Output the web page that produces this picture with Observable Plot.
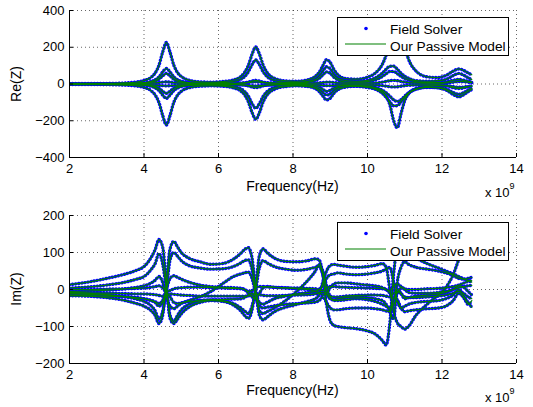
<!DOCTYPE html>
<html><head><meta charset="utf-8">
<script src="https://cdn.jsdelivr.net/npm/d3@7"></script>
<script src="https://cdn.jsdelivr.net/npm/@observablehq/plot@0.6"></script>
<style>
body{margin:0;background:#fff;}
#chart{width:533px;height:407px;}
#chart svg{display:block;}
</style></head><body><div id="chart"></div>
<script>
// Frequency samples (GHz, axis shows "x 10^9")
const freqGHz = [2.0,2.5,3.0,3.5,3.8,4.0,4.2,4.3,4.4,4.5,4.6,4.7,4.8,4.9,5.0,5.2,5.5,5.8,6.1,6.4,6.6,6.7,6.8,6.9,7.0,7.1,7.2,7.3,7.5,7.8,8.1,8.4,8.6,8.7,8.8,8.9,9.0,9.1,9.2,9.4,9.7,10.0,10.2,10.4,10.5,10.6,10.7,10.8,10.9,11.0,11.1,11.3,11.6,11.9,12.1,12.3,12.45,12.6,12.7,12.8];
const xTicks = [2,4,6,8,10,12,14];
const reTicks = [-400,-200,0,200,400];
const imTicks = [-200,-100,0,100,200];
const legendLabels = ["Field Solver","Our Passive Model"];

// Re(Z) series
const re1 = [1,1,2,6,11,19,38,60,101,172,226,172,103,62,41,21,12,10,13,22,41,63,101,161,201,162,102,64,31,17,15,23,42,63,99,132,117,78,51,30,26,37,58,108,157,232,318,350,287,200,136,71,39,35,46,70,82,72,60,50];
const re2 = [-1,-1,-3,-6,-11,-19,-38,-60,-100,-170,-223,-170,-100,-61,-40,-21,-12,-10,-12,-21,-38,-59,-96,-154,-192,-155,-97,-61,-29,-14,-10,-14,-25,-40,-65,-87,-77,-50,-32,-17,-11,-15,-23,-41,-66,-113,-198,-238,-161,-90,-54,-27,-17,-21,-32,-57,-70,-56,-42,-30];
const re3 = [1,1,1,2,4,7,14,23,38,65,85,65,39,23,15,8,5,5,7,13,26,40,66,105,131,105,66,41,19,9,9,14,27,43,70,94,82,53,33,19,15,20,32,60,80,97,97,80,59,42,31,18,15,18,24,46,58,46,34,24];
const re4 = [-1,-1,-1,-2,-4,-7,-13,-21,-35,-60,-78,-60,-36,-22,-14,-8,-5,-5,-7,-13,-26,-41,-66,-106,-132,-106,-67,-42,-19,-10,-7,-10,-19,-28,-45,-60,-53,-34,-21,-15,-13,-19,-28,-51,-72,-97,-118,-118,-97,-72,-51,-29,-19,-20,-26,-46,-56,-45,-33,-24];
const re5 = [0,0,1,1,3,5,10,15,26,44,58,44,26,15,10,5,3,2,2,2,4,6,10,16,20,16,10,7,4,3,4,9,19,30,49,66,58,37,23,11,10,13,22,41,56,68,68,56,41,29,22,12,7,7,10,20,25,20,15,10];
const re6 = [0,0,-1,-1,-3,-4,-9,-14,-23,-39,-51,-39,-23,-14,-9,-5,-3,-2,-2,-2,-4,-6,-10,-16,-20,-16,-10,-7,-4,-2,-2,-5,-11,-18,-29,-40,-34,-22,-15,-8,-9,-12,-19,-34,-48,-66,-86,-95,-86,-66,-48,-25,-13,-9,-10,-20,-25,-20,-15,-10];
const re7 = [3,3,3,3,4,4,5,6,8,10,12,10,8,6,5,4,3,3,3,4,5,6,8,10,12,10,8,6,5,4,3,4,5,6,8,10,10,8,6,5,4,5,6,10,14,18,20,18,14,10,8,6,5,5,6,10,14,12,10,8];
const re8 = [-3,-3,-3,-3,-4,-4,-5,-6,-8,-9,-10,-9,-8,-6,-5,-4,-3,-3,-3,-4,-5,-6,-8,-9,-10,-9,-8,-6,-5,-4,-3,-4,-5,-6,-8,-9,-9,-8,-6,-5,-4,-5,-6,-9,-12,-15,-16,-15,-12,-9,-7,-6,-5,-5,-8,-14,-18,-16,-14,-12];

// Im(Z) series
const im1 = [13,20,30,42,52,62,88,108,135,115,20,-78,-92,-80,-66,-48,-35,-30,-32,-42,-58,-70,-78,-55,10,92,110,100,85,76,75,78,83,80,40,-40,-85,-97,-100,-103,-106,-112,-120,-138,-150,-90,40,110,115,105,95,85,70,58,50,42,35,28,24,20];
const im2 = [-15,-18,-22,-30,-38,-45,-58,-70,-92,-70,20,110,130,115,100,85,75,68,70,82,98,108,113,85,0,-70,-82,-75,-60,-48,-40,-32,-25,-15,20,50,65,68,66,63,60,62,65,70,60,0,-60,-90,-100,-107,-100,-70,-40,-15,5,40,80,110,100,90];
const im3 = [4,7,12,20,28,35,55,70,97,70,0,-70,-86,-70,-55,-40,-30,-28,-30,-38,-50,-58,-65,-45,0,60,78,72,62,55,52,55,60,62,40,-10,-25,-28,-25,-22,-20,-22,-25,-30,-40,-60,-80,20,60,75,68,60,55,50,45,38,30,28,30,33];
const im4 = [-8,-10,-14,-20,-26,-32,-45,-58,-80,-60,0,80,100,90,78,65,58,55,56,62,72,78,80,55,-10,-58,-65,-60,-50,-30,-5,25,50,68,50,10,-20,-30,-30,-28,-25,-28,-32,-40,-45,-50,-30,0,-10,-25,-22,-18,-15,-12,-8,0,10,5,-5,-15];
const im5 = [-5,-4,-2,2,6,10,18,25,35,20,-20,-45,-52,-45,-38,-30,-20,-5,15,35,42,45,47,30,-10,-35,-40,-35,-25,-18,-12,-8,-5,0,10,30,40,42,45,42,40,42,45,50,55,60,20,-30,-50,-45,-40,-35,-32,-30,-25,-15,0,-20,-35,-48];
const im6 = [-12,-13,-15,-19,-22,-25,-30,-35,-45,-35,0,30,37,33,28,20,12,8,6,5,3,0,-10,-20,-25,-10,5,8,6,4,2,0,-5,-8,-15,-10,5,15,18,18,15,12,10,5,0,-10,-25,-10,5,0,-8,-10,-10,-8,-5,0,5,8,10,11];
const im7 = [-10,-10,-10,-11,-12,-12,-13,-14,-16,-18,-15,-12,-13,-14,-15,-16,-18,-18,-18,-18,-18,-18,-17,-15,-12,-14,-16,-17,-17,-16,-15,-14,-12,-10,-8,-12,-18,-20,-20,-18,-16,-15,-15,-16,-18,-20,-10,-5,-12,-20,-22,-22,-20,-18,-15,-10,-5,-12,-20,-25];
const im8 = [-17,-17,-18,-20,-22,-25,-30,-33,-38,-30,-10,-20,-35,-38,-36,-33,-30,-28,-27,-26,-25,-22,-15,-10,-25,-45,-50,-48,-44,-40,-38,-36,-34,-30,-20,-35,-50,-55,-55,-52,-50,-50,-52,-55,-58,-60,-40,-30,-50,-60,-58,-55,-52,-50,-45,-30,-10,-25,-40,-30];
const im9 = [0,0,1,2,3,4,6,8,10,5,-5,-3,2,4,5,6,6,5,4,3,2,0,-5,-3,5,8,8,7,6,5,4,3,2,0,-3,5,8,8,7,6,5,4,3,2,0,-3,10,15,8,2,0,0,2,3,5,8,12,18,22,25];

const FONT = "'Liberation Sans', Arial, Helvetica, sans-serif";
const BLUE = "#0000ff", GREEN = "#008000";

function toRows(series) {
  const rows = [];
  series.forEach((vals, s) => {
    const n = Math.min(vals.length, freqGHz.length);
    for (let i = 0; i < n; i++) rows.push({s, f: freqGHz[i], v: vals[i]});
  });
  return rows;
}

function panel(o) {
  const rows = toRows(o.series);
  const W = 533, mL = 69, mR = 17;
  const plotH = o.height - o.marginTop - o.marginBottom;
  const plotW = W - mL - mR;
  const grid = {stroke: "#000", strokeOpacity: 0.6, strokeDasharray: "1,3", strokeWidth: 1};
  const svg = Plot.plot({
    width: W, height: o.height,
    marginLeft: mL, marginRight: mR, marginTop: o.marginTop, marginBottom: o.marginBottom,
    style: {fontFamily: FONT, fontSize: "13px", background: "#fff", color: "#000", overflow: "visible"},
    x: {domain: [2, 14], ticks: xTicks, tickSize: 0, tickPadding: 6, label: null, tickFormat: d => String(d)},
    y: {domain: o.yDomain, ticks: o.yTicks, tickSize: 0, tickPadding: 5, label: null},
    marks: [
      Plot.ruleX(xTicks, {x: d => d, ...grid}),
      Plot.ruleY(o.yTicks, {y: d => d, ...grid}),
      Plot.line(rows, {x: "f", y: "v", z: "s", stroke: BLUE, strokeWidth: 3.4, strokeDasharray: "0.1,3", strokeLinecap: "round", curve: "monotone-x", clip: true}),
      Plot.line(rows, {x: "f", y: "v", z: "s", stroke: GREEN, strokeWidth: 1.2, curve: "monotone-x", clip: true}),
      Plot.tickX(xTicks, {x: d => d, stroke: "#000", insetTop: plotH - 4}),
      Plot.tickY(o.yTicks, {y: d => d, stroke: "#000", insetRight: plotW - 4}),
      Plot.ruleX([2], {x: d => d, stroke: "#000"}),
      Plot.ruleY([o.yDomain[0]], {y: d => d, stroke: "#000"})
    ]
  });
  const s = d3.select(svg);
  s.append("text")
    .attr("transform", `translate(${o.ylx},${o.yly}) rotate(-90)`)
    .attr("text-anchor", "middle").attr("font-size", 14).attr("font-family", FONT).attr("fill", "#000")
    .text(o.ylabel);
  s.append("text").attr("x", 292.5).attr("y", o.xly)
    .attr("text-anchor", "middle").attr("font-size", 14).attr("font-family", FONT).attr("fill", "#000")
    .text("Frequency(Hz)");
  const m = s.append("text").attr("x", 485).attr("y", o.mly).attr("text-anchor", "start")
    .attr("font-size", 13).attr("font-family", FONT).attr("fill", "#000");
  m.append("tspan").text("x 10");
  m.append("tspan").attr("dy", -8).attr("font-size", 9).text("9");
  // legend
  const g = s.append("g").attr("font-family", FONT).attr("font-size", 13.7).attr("text-anchor", "start");
  g.append("rect").attr("x", 337.5).attr("y", o.lgY + 0.5).attr("width", 171).attr("height", 38)
    .attr("fill", "#fff").attr("stroke", "#000").attr("stroke-width", 1);
  g.append("circle").attr("cx", 366).attr("cy", o.lgY + 11.5).attr("r", 1.8).attr("fill", BLUE);
  g.append("text").attr("x", 390).attr("y", o.lgY + 16.5).attr("fill", "#000").text(legendLabels[0]);
  g.append("line").attr("x1", 345).attr("x2", 386).attr("y1", o.lgY + 27).attr("y2", o.lgY + 27)
    .attr("stroke", GREEN).attr("stroke-width", 1.1);
  g.append("text").attr("x", 390).attr("y", o.lgY + 33.5).attr("fill", "#000").text(legendLabels[1]);
  return svg;
}

const chart = document.getElementById("chart");
chart.appendChild(panel({
  series: [re1, re2, re3, re4, re5, re6, re7, re8],
  yDomain: [-400, 400], yTicks: reTicks, height: 203, marginTop: 10, marginBottom: 46,
  ylabel: "Re(Z)", ylx: 21, yly: 84, xly: 190.5, mly: 197, lgY: 17
}));
chart.appendChild(panel({
  series: [im1, im2, im3, im4, im5, im6, im7, im8, im9],
  yDomain: [-200, 200], yTicks: imTicks, height: 204, marginTop: 12, marginBottom: 44,
  ylabel: "Im(Z)", ylx: 21, yly: 86, xly: 192, mly: 198.5, lgY: 19
}));
</script></body></html>
